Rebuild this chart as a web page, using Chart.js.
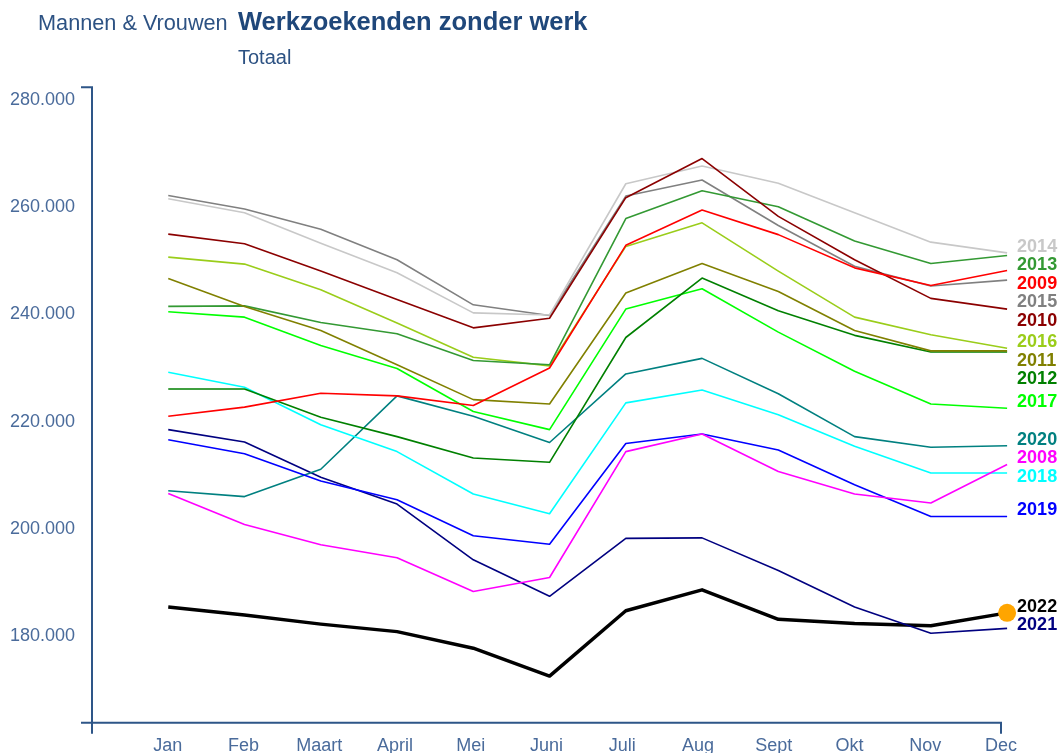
<!DOCTYPE html>
<html><head><meta charset="utf-8">
<script src="https://cdn.jsdelivr.net/npm/chart.js@4.4.0/dist/chart.umd.min.js"></script>
<style>
html,body{margin:0;padding:0;background:#fff;width:1060px;height:753px;overflow:hidden;font-family:"Liberation Sans",Arial,sans-serif;}
#wrap{position:relative;width:1060px;height:753px;}
canvas{position:absolute;left:0;top:0;}
.t{position:absolute;white-space:nowrap;line-height:1.15;}
</style></head><body>
<div id="wrap">
<canvas id="c" width="1060" height="753"></canvas>
<div class="t" style="left:38px;top:11px;font-size:21.7px;color:#2d5283;">Mannen &amp; Vrouwen</div>
<div class="t" style="left:238px;top:7px;font-size:25.5px;font-weight:bold;color:#1f477a;">Werkzoekenden zonder werk</div>
<div class="t" style="left:238px;top:46px;font-size:20px;color:#2d5283;">Totaal</div>
</div>
<script>
const months = ['Jan','Feb','Maart','April','Mei','Juni','Juli','Aug','Sept','Okt','Nov','Dec'];
const yTicks = [180000,200000,220000,240000,260000,280000];

const v2008 = [206600,200800,197000,194600,188300,190900,214400,217700,210700,206500,204800,212000];
const v2009 = [221000,222700,225300,224800,223000,230000,252900,259500,254900,248700,245400,248200];
const v2010 = [255000,253200,248100,242800,237500,239300,261800,269100,258300,250200,243000,241000];
const v2011 = [246700,241500,237000,230600,224100,223300,244000,249500,244300,237000,233200,233200];
const v2012 = [226100,226100,220800,217200,213200,212400,235700,246800,240700,236100,233000,233000];
const v2013 = [241500,241600,238500,236400,231400,230600,257900,263100,260100,253700,249500,251000];
const v2014 = [261600,259000,253300,247800,240300,239900,264400,267700,264500,259000,253500,251500];
const v2015 = [262200,259700,255900,250200,241800,239800,262100,265100,256600,249000,245300,246400];
const v2016 = [250700,249400,244600,238400,232000,230400,252700,257100,248100,239500,236200,233700];
const v2017 = [240500,239500,234200,229900,221900,218500,241000,244800,236700,229400,223300,222500];
const v2018 = [229200,226400,219400,214400,206500,202800,223500,225900,221300,215400,210400,210400];
const v2019 = [216600,214000,208900,205400,198700,197100,215900,217700,214700,208200,202300,202300];
const v2020 = [207100,206000,211100,224800,221000,216100,228900,231800,225200,217200,215200,215500];
const v2021 = [218500,216200,209600,204600,194200,187400,198200,198300,192200,185400,180500,181400];
const v2022 = [185400,183900,182200,180800,177700,172500,184700,188600,183100,182300,181900,184300];

const years = ['2008','2009','2010','2011','2012','2013','2014','2015','2016','2017','2018','2019','2020','2021','2022'];
const seriesValues = [v2008,v2009,v2010,v2011,v2012,v2013,v2014,v2015,v2016,v2017,v2018,v2019,v2020,v2021,v2022];
const seriesColors = ['#ff00ff','#ff0000','#8b0000','#808000','#008000','#339933','#c8c8c8','#808080','#9acd1a','#00ff00','#00ffff','#0000ff','#008080','#000080','#000000'];

const FONT = '"Liberation Sans", Arial, sans-serif';
const TICK_COLOR = '#4a6b9b';
const AXIS_COLOR = '#2e5688';
const X_DATA_MAX = 11.92;

const fmt = v => String(v).replace(/\B(?=(\d{3})+(?!\d))/g, '.');

const datasets = years.map((yr, i) => {
  const isLast = i === years.length - 1;
  const vals = seriesValues[i];
  return {
    label: yr,
    data: vals.map((v, k) => ({x: k + 1, y: v})),
    borderColor: seriesColors[i],
    backgroundColor: seriesColors[i],
    borderWidth: isLast ? 3.5 : 1.6,
    tension: 0,
    clip: false,
    xAxisID: 'xd',
    yAxisID: 'y',
    pointRadius: isLast ? (c => c.dataIndex === vals.length - 1 ? 9 : 0) : 0,
    pointHoverRadius: 0,
    pointBackgroundColor: '#ffa500',
    pointBorderWidth: 0,
    borderJoinStyle: 'round'
  };
});

const axisPlugin = {
  id: 'axisLines',
  beforeDatasetsDraw(chart) {
    const {ctx, chartArea: {left, right, top, bottom}} = chart;
    ctx.save();
    ctx.strokeStyle = AXIS_COLOR;
    ctx.lineWidth = 2;
    ctx.beginPath();
    ctx.moveTo(left - 11, top); ctx.lineTo(left, top); ctx.lineTo(left, bottom + 11);
    ctx.stroke();
    ctx.beginPath();
    ctx.moveTo(left - 11, bottom); ctx.lineTo(right, bottom); ctx.lineTo(right, bottom + 11);
    ctx.stroke();
    ctx.restore();
  }
};

const endLabels = {
  id: 'endLabels',
  afterDatasetsDraw(chart) {
    const ctx = chart.ctx;
    const items = chart.data.datasets.map((ds, i) => {
      const meta = chart.getDatasetMeta(i);
      const p = meta.data[meta.data.length - 1];
      return {x: p.x + 10, y: p.y - 6, text: ds.label, color: ds.borderColor};
    });
    items.sort((a, b) => a.y - b.y);
    for (let k = 1; k < items.length; k++) {
      if (items[k].y < items[k - 1].y + 18.5) items[k].y = items[k - 1].y + 18.5;
    }
    ctx.save();
    ctx.font = 'bold 18px ' + FONT;
    ctx.textBaseline = 'middle';
    ctx.textAlign = 'left';
    items.forEach(it => { ctx.fillStyle = it.color; ctx.fillText(it.text, it.x, it.y); });
    ctx.restore();
  }
};

new Chart(document.getElementById('c'), {
  type: 'line',
  data: {datasets},
  plugins: [axisPlugin, endLabels],
  options: {
    responsive: false,
    animation: false,
    devicePixelRatio: 1,
    layout: {padding: {top: 87.3, right: 59, bottom: 0, left: 0}},
    plugins: {legend: {display: false}, tooltip: {enabled: false}, title: {display: false}},
    scales: {
      x: {
        type: 'linear', position: 'bottom', min: 0, max: 12,
        grid: {display: false, drawTicks: false},
        border: {display: false},
        ticks: {
          stepSize: 1, autoSkip: false, maxRotation: 0, padding: 13,
          color: TICK_COLOR, font: {size: 18, family: FONT},
          callback: v => (v >= 1 && v <= months.length) ? months[v - 1] : ''
        },
        afterFit: s => { s.height = 30.3; }
      },
      xd: {
        type: 'linear', display: false, min: 0, max: X_DATA_MAX,
        afterBuildTicks: s => { s.min = 0; s.max = X_DATA_MAX; s.ticks = [{value: 0}, {value: X_DATA_MAX}]; }
      },
      y: {
        type: 'linear', position: 'left', min: 163800, max: 282400,
        grid: {display: false, drawTicks: false},
        border: {display: false},
        ticks: {padding: 17, color: TICK_COLOR, font: {size: 18, family: FONT}, callback: v => fmt(v)},
        afterBuildTicks: s => { s.ticks = yTicks.map(v => ({value: v})); },
        afterFit: s => { s.width = 92; }
      }
    }
  }
});
</script>
</body></html>
